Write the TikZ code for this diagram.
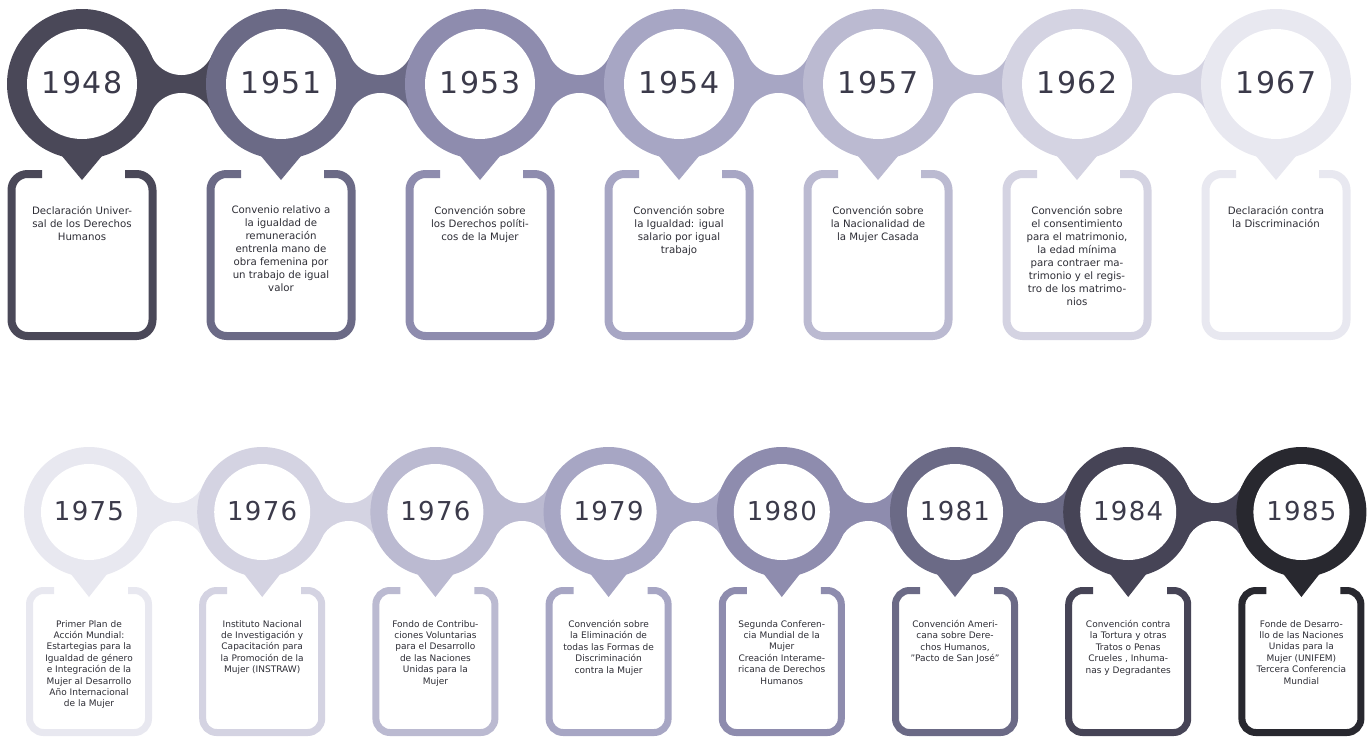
\documentclass[tikz,border=0pt]{standalone}
\usepackage{fontspec}
\setmainfont{DejaVu Sans}
\newfontfamily\yearfont[LetterSpace=5]{DejaVu Sans}
\definecolor{cA}{HTML}{4A4858}
\definecolor{cB}{HTML}{6B6A86}
\definecolor{cC}{HTML}{8E8CAE}
\definecolor{cD}{HTML}{A7A6C4}
\definecolor{cE}{HTML}{BBBAD1}
\definecolor{cF}{HTML}{D4D3E2}
\definecolor{cG}{HTML}{E8E8F0}
\definecolor{cH}{HTML}{464456}
\definecolor{cK}{HTML}{28282F}
\definecolor{yearcol}{HTML}{3B3A4A}
\definecolor{desccol}{HTML}{2E2E36}
\tikzset{
  yeartop/.style={inner sep=0pt, text=yearcol, font=\yearfont\fontsize{30}{30}\selectfont},
  yearbot/.style={inner sep=0pt, text=yearcol, font=\yearfont\fontsize{26}{26}\selectfont},
  desctop/.style={inner sep=0pt, align=center, anchor=north, text=desccol, font=\fontsize{10.2}{13}\selectfont},
  descbot/.style={inner sep=0pt, align=center, anchor=north, text=desccol, font=\fontsize{9}{11.4}\selectfont},
}
% neck between two rings: x1, x2, yc, R, h, colour
\newcommand{\drawneck}[6]{%
  \pgfmathsetmacro\dh{(#2-#1)/2}%
  \pgfmathsetmacro\xm{(#1+#2)/2}%
  \pgfmathsetmacro\Rw{(\dh*\dh+#5*#5-#4*#4)/(2*(#4-#5))}%
  \pgfmathsetmacro\tx{\dh*\Rw/(#4+\Rw)}%
  \pgfmathsetmacro\ty{#4*(#5+\Rw)/(#4+\Rw)}%
  \pgfmathsetmacro\cy{#5+\Rw}%
  \begin{scope}
    \clip (\xm-\tx,#3-\ty) rectangle (\xm+\tx,#3+\ty);
    \fill[#6] (\xm-\tx,#3-\ty) rectangle (\xm+\tx,#3+\ty);
    \fill[white] (\xm,#3-\cy) circle[radius=\Rw];
    \fill[white] (\xm,#3+\cy) circle[radius=\Rw];
  \end{scope}}
% name, x, colour, year, text
\newcommand{\topitem}[5]{%
  \fill[#3] (#2,84) circle[radius=75];
  \fill[#3] (#2-25,150) -- (#2+25,150) -- (#2,180) -- cycle;
  \fill[white] (#2,84) circle[radius=55];
  \node[yeartop] (y#1) at (#2,83) {#4};
  \draw[#3, line width=8pt, rounded corners=16pt] (#2-40,174) -- (#2-70.5,174) -- (#2-70.5,336) -- (#2+70.5,336) -- (#2+70.5,174) -- (#2+43,174);
  \node[desctop] (t#1) at (#2,206) {#5};}
\newcommand{\botitem}[5]{%
  \fill[#3] (#2,512) circle[radius=65];
  \fill[#3] (#2-22,569) -- (#2+22,569) -- (#2,597) -- cycle;
  \fill[white] (#2,512) circle[radius=48];
  \node[yearbot] (y#1) at (#2,511) {#4};
  \draw[#3, line width=7pt, rounded corners=14pt] (#2-35,590.5) -- (#2-59.5,590.5) -- (#2-59.5,732.5) -- (#2+59.5,732.5) -- (#2+59.5,590.5) -- (#2+39,590.5);
  \node[descbot] (t#1) at (#2,620) {#5};}
\begin{document}
\begin{tikzpicture}[x=1pt,y=-1pt]
\fill[white] (0,0) rectangle (1370,736);
\useasboundingbox (0,0) rectangle (1370,736);
% necks, top row
\drawneck{82}{281}{84}{75}{9}{cA}
\drawneck{281}{480}{84}{75}{9}{cB}
\drawneck{480}{679}{84}{75}{9}{cC}
\drawneck{679}{878}{84}{75}{9}{cD}
\drawneck{878}{1077}{84}{75}{9}{cE}
\drawneck{1077}{1276}{84}{75}{9}{cF}
% necks, bottom row
\drawneck{89}{262.2}{512}{65}{9}{cG}
\drawneck{262.2}{435.4}{512}{65}{9}{cF}
\drawneck{435.4}{608.6}{512}{65}{9}{cE}
\drawneck{608.6}{781.8}{512}{65}{9}{cD}
\drawneck{781.8}{955}{512}{65}{9}{cC}
\drawneck{955}{1128.2}{512}{65}{9}{cB}
\drawneck{1128.2}{1301.4}{512}{65}{9}{cH}
% top row
\topitem{a}{82}{cA}{1948}{Declaración Univer-\\sal de los Derechos\\Humanos}
\topitem{b}{281}{cB}{1951}{Convenio relativo a\\la igualdad de\\remuneración\\entrenla mano de\\obra femenina por\\un trabajo de igual\\valor}
\topitem{c}{480}{cC}{1953}{Convención sobre\\los Derechos políti-\\cos de la Mujer}
\topitem{d}{679}{cD}{1954}{Convención sobre\\la Igualdad: igual\\salario por igual\\trabajo}
\topitem{e}{878}{cE}{1957}{Convención sobre\\la Nacionalidad de\\la Mujer Casada}
\topitem{f}{1077}{cF}{1962}{Convención sobre\\el consentimiento\\para el matrimonio,\\la edad mínima\\para contraer ma-\\trimonio y el regis-\\tro de los matrimo-\\nios}
\topitem{g}{1276}{cG}{1967}{Declaración contra\\la Discriminación}
% bottom row
\botitem{h}{89}{cG}{1975}{Primer Plan de\\Acción Mundial:\\Estartegias para la\\Igualdad de género\\e Integración de la\\Mujer al Desarrollo\\Año Internacional\\de la Mujer}
\botitem{i}{262.2}{cF}{1976}{Instituto Nacional\\de Investigación y\\Capacitación para\\la Promoción de la\\Mujer (INSTRAW)}
\botitem{j}{435.4}{cE}{1976}{Fondo de Contribu-\\ciones Voluntarias\\para el Desarrollo\\de las Naciones\\Unidas para la\\Mujer}
\botitem{k}{608.6}{cD}{1979}{Convención sobre\\la Eliminación de\\todas las Formas de\\Discriminación\\contra la Mujer}
\botitem{l}{781.8}{cC}{1980}{Segunda Conferen-\\cia Mundial de la\\Mujer\\Creación Interame-\\ricana de Derechos\\Humanos}
\botitem{m}{955}{cB}{1981}{Convención Ameri-\\cana sobre Dere-\\chos Humanos,\\"Pacto de San José"}
\botitem{n}{1128.2}{cH}{1984}{Convención contra\\la Tortura y otras\\Tratos o Penas\\Crueles , Inhuma-\\nas y Degradantes}
\botitem{o}{1301.4}{cK}{1985}{Fonde de Desarro-\\llo de las Naciones\\Unidas para la\\Mujer (UNIFEM)\\Tercera Conferencia\\Mundial}
\end{tikzpicture}
\end{document}
